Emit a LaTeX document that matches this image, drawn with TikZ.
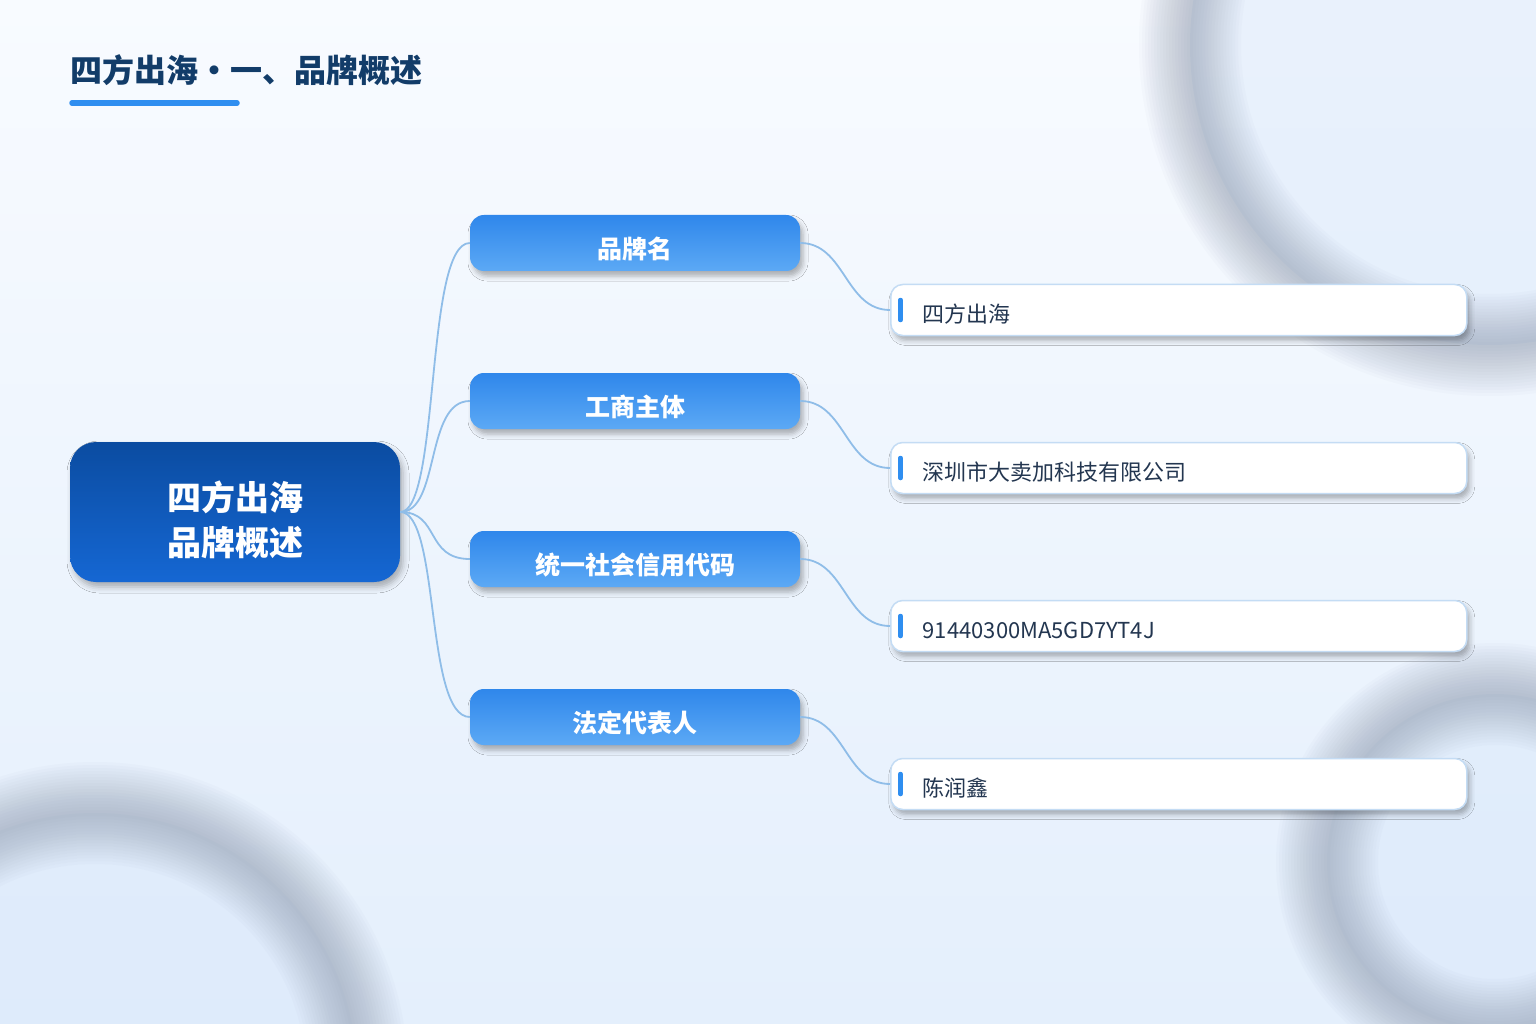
\documentclass[tikz,border=0pt]{standalone}
\usepackage{fontspec}
\setmainfont{Noto Sans CJK SC}
\usepackage{tikz}
\usetikzlibrary{shadows.blur}

\definecolor{bgtop}{HTML}{F8FBFF}
\definecolor{bgbottom}{HTML}{E4EFFC}
\definecolor{bginner}{HTML}{D8E7FA}
\definecolor{ringgray}{HTML}{7F8BA0}
\definecolor{titlenavy}{HTML}{123C69}
\definecolor{barblue}{HTML}{2F8EF0}
\definecolor{roottop}{HTML}{0B4CA1}
\definecolor{rootbottom}{HTML}{1567D3}
\definecolor{branchtop}{HTML}{2F87EB}
\definecolor{branchbottom}{HTML}{5CA9F5}
\definecolor{leafline}{HTML}{C4DCF4}
\definecolor{leaftext}{HTML}{233650}
\definecolor{linkblue}{HTML}{8FBDE8}

\newcommand{\lowerby}[2]{\raisebox{-#1}[\height][\depth]{#2}}

\begin{document}
\begin{tikzpicture} [x = 1pt, y = -1pt,
    rootbox/.style = {rounded corners = 26pt, minimum width = 330pt, minimum height = 140pt,
      top color = roottop, bottom color = rootbottom, text = white, align = center,
      font = \fontsize{34}{45}\selectfont\bfseries,
      blur shadow = {shadow xshift = 3pt, shadow yshift = -5pt, shadow blur radius = 6pt, shadow opacity = 30}},
    branchbox/.style = {rounded corners = 14pt, minimum width = 330pt, minimum height = 56pt,
      top color = branchtop, bottom color = branchbottom, text = white,
      font = \fontsize{25}{30}\selectfont\bfseries,
      blur shadow = {shadow xshift = 3pt, shadow yshift = -5pt, shadow blur radius = 5pt, shadow opacity = 30}},
    leafbox/.style = {anchor = west, draw = leafline, line width = 1.5pt, fill = white,
      rounded corners = 12pt, minimum height = 51pt, text width = 512pt, inner xsep = 32pt,
      align = left, text = leaftext, font = \fontsize{22}{26}\selectfont,
      blur shadow = {shadow xshift = 3pt, shadow yshift = -5pt, shadow blur radius = 5pt, shadow opacity = 30}},
    accentbar/.style = {draw = barblue, line width = 4.5pt, line cap = round},
    link/.style = {draw = linkblue, line width = 1.8pt}]
    \useasboundingbox (0,0) rectangle (1536,1024);
    \fill [top color = bgtop, bottom color = bgbottom] (0,0) rectangle (1536,1024);
    \begin{scope}
      \clip (0,0) rectangle (1536,1024);
      \fill [bginner, opacity = 0.45] (1490,45) circle [radius = 300pt];
      \fill [bginner, opacity = 0.45] (95,1075) circle [radius = 262pt];
      \fill [bginner, opacity = 0.45] (1495,862) circle [radius = 168pt];
      \foreach \w in {6,12,...,102} {
        \draw [ringgray, line width = \w pt, opacity = 0.032] (1490,45) circle [radius = 300pt];
        \draw [ringgray, line width = \w pt, opacity = 0.032] (95,1075) circle [radius = 262pt];
        \draw [ringgray, line width = \w pt, opacity = 0.032] (1495,862) circle [radius = 168pt];
      }
    \end{scope}
    \node [anchor = west, inner sep = 0pt, text = titlenavy, font = \fontsize{32}{38}\selectfont\bfseries]
      (title) at (70,70) {四方出海・一、品牌概述};
    \coordinate (barstart) at (72,103);
    \coordinate (barend) at (237,103);
    \draw [accentbar, line width = 5.5pt] (barstart) -- (barend);
    \node [rootbox] (root) at (235,512)
      {\lowerby{12pt}{\begin{tabular}{@{}c@{}}四方出海\\品牌概述\end{tabular}}};
    \foreach \n/\y/\t in {b1/243/品牌名, b2/401/工商主体, b3/559/统一社会信用代码, b4/717/法定代表人}
      \node [branchbox] (\n) at (635,\y) {\lowerby{6pt}{\t}};
    \foreach \n/\y/\t in {l1/310/四方出海, l2/468/深圳市大卖加科技有限公司, l3/626/91440300MA5GD7YT4J, l4/784/陈润鑫} {
      \node [leafbox] (\n) at (890,\y) {\lowerby{4pt}{\t}};
      \draw [accentbar] ([xshift = 10.5pt] \n.west) ++(0,-10) -- ++(0,20);
    }
    \foreach \b/\l in {b1/l1, b2/l2, b3/l3, b4/l4} {
      \draw [link] (root.east) .. controls +(40,0) and +(-45,0) .. (\b.west);
      \draw [link] (\b.east) .. controls +(45,0) and +(-45,0) .. (\l.west);
    }
  \end{tikzpicture}
\end{document}
